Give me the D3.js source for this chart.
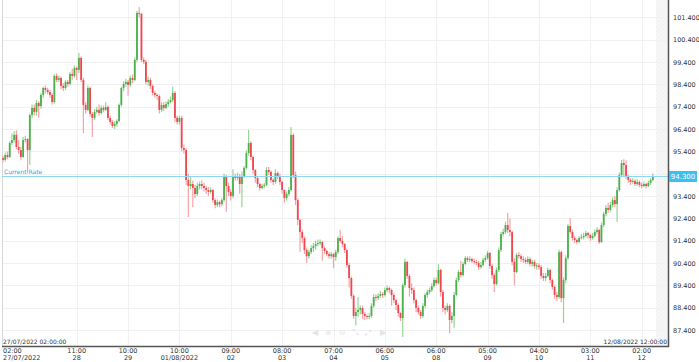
<!DOCTYPE html>
<html lang="en">
<head>
<meta charset="utf-8">
<title>Candles</title>
<script src="https://cdn.jsdelivr.net/npm/d3@7/dist/d3.min.js"></script>
<style>
  body { margin: 0; background: #fff; }
  text { font-family: "DejaVu Sans", Verdana, sans-serif; }
</style>
</head>
<body>
<script>

// hourly candles, 27/07/2022 02:00 -> 12/08/2022
var firstOpen = 95.10;
var closes = [
  95.02, 95.24, 95.15, 95.78, 95.91, 96.14, 95.60, 95.46, 95.15, 95.91,
  95.95, 95.46, 97.03, 97.35, 97.17, 97.57, 97.43, 97.93, 98.24, 98.15,
  98.06, 97.93, 97.61, 98.78, 98.60, 98.69, 98.33, 98.24, 98.51, 98.42,
  98.87, 98.78, 99.14, 99.05, 99.59, 98.60, 97.48, 97.26, 98.24, 97.08,
  96.90, 97.17, 97.26, 97.12, 97.35, 97.26, 97.39, 96.90, 96.72, 96.54,
  96.63, 96.76, 97.48, 98.24, 98.42, 98.51, 98.38, 98.69, 98.60, 99.50,
  101.60, 101.56, 99.50, 99.41, 98.51, 98.60, 98.33, 98.02, 97.93, 97.88,
  97.26, 97.48, 97.35, 97.52, 97.61, 97.70, 98.02, 96.90, 96.72, 96.90,
  95.55, 95.46, 94.12, 93.85, 93.94, 93.76, 93.49, 93.85, 93.94, 93.85,
  93.76, 93.67, 93.58, 93.67, 93.22, 93.00, 93.13, 93.04, 93.22, 94.30,
  93.85, 93.58, 93.40, 94.25, 94.21, 94.30, 93.94, 94.30, 94.66, 95.33,
  95.78, 95.15, 94.57, 94.21, 93.94, 93.76, 93.85, 93.90, 94.57, 94.48,
  94.12, 94.03, 94.43, 94.30, 94.03, 93.67, 93.31, 93.49, 93.67, 96.14,
  94.34, 93.22, 92.33, 91.79, 91.52, 90.98, 90.71, 90.89, 91.07, 91.16,
  91.25, 91.30, 91.34, 91.07, 90.94, 90.80, 90.71, 90.80, 90.67, 90.89,
  91.52, 91.39, 91.25, 90.98, 90.31, 89.73, 88.93, 88.03, 88.21, 88.30,
  88.39, 88.12, 88.03, 87.99, 88.03, 88.48, 88.88, 88.84, 88.93, 89.01,
  88.97, 89.19, 89.28, 89.19, 88.97, 88.74, 88.52, 88.16, 87.94, 89.41,
  90.45, 89.82, 89.28, 89.19, 88.74, 88.39, 88.21, 88.03, 88.48, 88.97,
  89.10, 89.19, 89.37, 89.64, 89.50, 90.09, 89.10, 88.39, 88.30, 88.48,
  87.85, 88.03, 88.97, 89.64, 90.00, 89.86, 90.36, 90.62, 90.54, 90.58,
  90.49, 90.45, 90.40, 90.22, 90.31, 90.54, 90.62, 90.85, 90.27, 89.86,
  89.46, 90.09, 90.98, 91.70, 91.79, 92.10, 91.88, 91.79, 90.45, 90.00,
  90.76, 90.71, 90.58, 90.54, 90.45, 90.58, 90.36, 90.45, 90.27, 90.29,
  90.22, 89.82, 89.73, 89.82, 90.09, 89.64, 89.33, 88.97, 88.88, 90.89,
  88.83, 89.64, 90.62, 92.06, 91.79, 91.52, 91.43, 91.34, 91.52, 91.56,
  91.61, 91.74, 91.65, 91.52, 91.61, 91.79, 91.88, 91.34, 92.10, 92.60,
  92.87, 92.78, 93.00, 93.22, 93.04, 93.67, 94.34, 94.88, 94.79, 94.30,
  94.12, 94.03, 94.08, 93.94, 94.03, 93.90, 93.85, 93.94, 93.85, 93.99, 94.12, 94.30
];
var highs = [
  95.20, 95.35, 95.40, 95.85, 96.20, 96.30, 96.35, 95.90, 95.60, 96.05,
  96.10, 96.00, 97.10, 97.50, 97.50, 97.70, 97.65, 98.00, 98.30, 98.35,
  98.25, 98.15, 98.00, 98.85, 98.90, 98.80, 98.75, 98.45, 98.60, 98.60,
  98.95, 99.10, 99.25, 99.20, 99.81, 99.65, 98.70, 97.60, 98.35, 98.30,
  97.15, 97.30, 97.40, 97.50, 97.45, 97.45, 97.60, 97.45, 97.00, 96.80,
  96.75, 96.85, 97.55, 98.30, 98.55, 98.65, 98.60, 98.80, 98.85, 99.60,
  101.70, 101.87, 101.60, 99.60, 99.50, 98.75, 98.70, 98.40, 98.10, 98.00,
  97.95, 97.60, 97.60, 97.65, 97.75, 97.85, 98.30, 98.10, 97.00, 97.00,
  97.00, 95.70, 95.55, 94.40, 94.30, 94.10, 93.90, 94.00, 94.05, 94.10,
  94.00, 93.85, 93.80, 93.80, 93.70, 93.30, 93.25, 93.20, 93.30, 94.40,
  94.35, 94.00, 93.70, 94.60, 94.40, 94.45, 94.40, 94.50, 94.75, 95.45,
  96.36, 95.85, 95.20, 94.60, 94.30, 94.00, 93.95, 94.00, 94.70, 94.70,
  94.55, 94.20, 94.60, 94.50, 94.40, 94.10, 93.70, 93.60, 93.80, 96.49,
  96.20, 94.50, 93.30, 92.40, 91.90, 91.60, 91.10, 91.00, 91.20, 91.30,
  91.40, 91.45, 91.45, 91.40, 91.15, 91.00, 90.90, 90.90, 90.85, 91.00,
  91.60, 91.88, 91.60, 91.30, 91.05, 90.40, 89.80, 89.00, 88.40, 88.88,
  88.50, 88.50, 88.20, 88.10, 88.15, 88.60, 89.00, 89.00, 89.05, 89.15,
  89.10, 89.30, 89.40, 89.35, 89.25, 89.05, 88.80, 88.60, 88.20, 89.50,
  90.60, 90.50, 89.90, 89.50, 89.30, 88.80, 88.50, 88.30, 88.60, 89.05,
  89.20, 89.30, 89.50, 89.75, 89.75, 90.35, 90.15, 89.20, 88.50, 88.60,
  88.55, 88.20, 89.10, 89.75, 90.10, 90.50, 90.45, 90.70, 90.70, 90.70,
  90.65, 90.60, 90.55, 90.50, 90.45, 90.65, 90.75, 90.95, 90.90, 90.35,
  89.95, 90.20, 91.10, 91.80, 91.95, 92.25, 92.64, 92.40, 91.85, 90.60,
  90.85, 90.90, 90.80, 90.70, 90.65, 90.70, 90.65, 90.55, 90.55, 90.40,
  90.40, 90.30, 89.95, 89.95, 90.20, 90.15, 89.70, 89.40, 89.10, 91.00,
  90.95, 89.75, 90.75, 92.15, 92.42, 91.90, 91.60, 91.50, 91.60, 91.70,
  91.75, 91.85, 91.80, 91.70, 91.75, 91.90, 92.00, 91.95, 92.20, 92.70,
  93.00, 93.10, 93.15, 93.35, 93.40, 93.80, 94.45, 95.02, 95.05, 95.00,
  94.35, 94.20, 94.20, 94.15, 94.15, 94.10, 94.00, 94.05, 94.00, 94.10, 94.20, 94.42
];
var lows = [
  94.90, 94.95, 95.05, 95.10, 95.70, 95.80, 95.50, 95.30, 95.00, 95.10,
  95.80, 94.43, 94.80, 96.90, 97.00, 97.00, 96.90, 97.30, 97.80, 98.00,
  97.95, 97.80, 97.50, 97.55, 98.50, 98.50, 98.20, 98.10, 98.15, 98.30,
  98.35, 98.60, 98.70, 98.60, 98.90, 98.50, 96.22, 97.10, 97.20, 96.95,
  96.05, 96.80, 97.10, 97.00, 97.05, 97.15, 97.20, 96.80, 96.60, 96.45,
  96.40, 96.50, 96.70, 97.40, 98.10, 98.30, 97.90, 98.30, 98.45, 98.55,
  99.40, 101.40, 99.40, 99.30, 98.40, 98.35, 98.20, 97.90, 97.80, 97.70,
  97.10, 97.15, 97.20, 97.30, 97.40, 97.55, 97.60, 96.70, 96.60, 96.60,
  95.40, 95.30, 93.90, 92.46, 93.70, 92.90, 93.30, 93.40, 93.70, 93.70,
  93.60, 93.50, 93.40, 93.50, 93.10, 92.85, 92.90, 92.90, 92.95, 93.15,
  92.70, 93.40, 93.20, 93.30, 94.10, 94.10, 93.50, 92.90, 94.20, 94.60,
  95.20, 95.00, 94.40, 94.00, 93.80, 93.65, 93.70, 93.75, 93.85, 94.35,
  94.00, 93.90, 93.95, 94.15, 93.90, 93.50, 93.10, 93.20, 93.40, 93.60,
  94.20, 93.00, 92.10, 90.90, 91.30, 90.80, 90.40, 90.60, 90.80, 90.90,
  91.00, 91.15, 91.20, 90.50, 90.80, 90.70, 90.60, 90.60, 90.18, 90.50,
  90.80, 91.30, 91.10, 90.85, 90.20, 89.30, 88.80, 87.90, 87.60, 88.00,
  88.10, 87.90, 87.85, 87.90, 87.90, 87.95, 88.40, 88.70, 88.75, 88.85,
  88.85, 88.90, 89.10, 89.05, 88.50, 88.60, 88.30, 88.00, 87.80, 87.09,
  89.30, 89.70, 88.90, 89.00, 88.60, 88.20, 88.10, 87.90, 87.95, 88.40,
  88.85, 89.00, 89.10, 89.30, 89.40, 89.45, 88.90, 88.20, 88.10, 88.20,
  87.27, 87.70, 87.50, 88.90, 89.55, 89.75, 89.80, 90.30, 90.45, 90.45,
  90.40, 90.35, 90.30, 90.10, 90.15, 90.25, 90.45, 90.55, 90.15, 89.70,
  89.10, 89.40, 90.00, 90.90, 91.60, 91.70, 91.75, 91.60, 90.30, 89.41,
  89.95, 90.60, 90.45, 90.40, 90.35, 90.35, 90.25, 90.25, 90.15, 90.10,
  90.10, 89.70, 89.60, 89.60, 89.75, 89.50, 89.20, 88.80, 88.70, 88.80,
  88.65, 87.72, 89.50, 90.55, 91.70, 91.40, 91.30, 91.25, 91.30, 91.45,
  91.45, 91.55, 91.50, 91.40, 91.45, 91.55, 91.70, 91.25, 91.30, 92.00,
  92.50, 92.65, 92.70, 92.90, 92.90, 92.24, 93.60, 94.25, 94.30, 94.15,
  94.00, 93.90, 93.95, 93.85, 93.85, 93.80, 93.75, 93.80, 93.75, 93.80, 93.90, 94.05
];

// x axis labels (candle index, time, day)
var tickIdx  = [0, 33, 56, 79, 102, 125, 148, 171, 194, 217, 240, 263, 286];
var tickTime = ["02:00", "11:00", "10:00", "10:00", "09:00", "08:00", "07:00", "06:00", "06:00", "05:00", "04:00", "03:00", "02:00"];
var tickDay  = ["27/07/2022", "28", "29", "01/08/2022", "02", "03", "04", "05", "08", "09", "10", "11", "12"];
var yTicks = [87.4, 88.4, 89.4, 90.4, 91.4, 92.4, 93.4, 94.4, 95.4, 96.4, 97.4, 98.4, 99.4, 100.4, 101.4];
var currentRate = 94.3;
var startLabel = "27/07/2022 02:00:00";
var endLabel = "12/08/2022 12:00:00";

var w = 699, h = 362;
var left = 2, right = 668, bottom = 346;

var candles = closes.map(function (c, i) {
    return { i: i, o: i === 0 ? firstOpen : closes[i - 1], c: c, h: highs[i], l: lows[i] };
});

var xScale = d3.scaleLinear().domain([0, 296]).range([3, 664]);
var yScale = d3.scaleLinear().domain([86.82, 102.18]).range([343, 0]);

var svg = d3.select("body").append("svg")
    .attr("width", w)
    .attr("height", h);

svg.append("rect").attr("width", w).attr("height", h).attr("fill", "#fff");

// hatched future area
var defs = svg.append("defs");
var pat = defs.append("pattern")
    .attr("id", "hatch")
    .attr("width", 3).attr("height", 3)
    .attr("patternUnits", "userSpaceOnUse")
    .attr("patternTransform", "rotate(45)");
pat.append("rect").attr("width", 3).attr("height", 3).attr("fill", "#f7f7f7");
pat.append("line").attr("x1", 0).attr("y1", 0).attr("x2", 0).attr("y2", 3)
    .attr("stroke", "#ececec").attr("stroke-width", 1);
svg.append("rect")
    .attr("x", 656).attr("y", 0)
    .attr("width", right - 656).attr("height", bottom)
    .attr("fill", "url(#hatch)");

// grid
svg.append("g").selectAll("line")
    .data(yTicks)
    .enter().append("line")
    .attr("x1", left).attr("x2", right)
    .attr("y1", function (d) { return Math.round(yScale(d)) + 0.5; })
    .attr("y2", function (d) { return Math.round(yScale(d)) + 0.5; })
    .attr("stroke", "#f1f1f1");

svg.append("g").selectAll("line")
    .data(tickIdx.slice(1))
    .enter().append("line")
    .attr("x1", function (d) { return Math.round(xScale(d)) + 0.5; })
    .attr("x2", function (d) { return Math.round(xScale(d)) + 0.5; })
    .attr("y1", 0).attr("y2", bottom)
    .attr("stroke", "#f1f1f1");

svg.append("line")
    .attr("x1", left + 0.5).attr("x2", left + 0.5)
    .attr("y1", 0).attr("y2", bottom)
    .attr("stroke", "#d8d8d8");

// faint navigation glyphs
var navX = [315, 328, 342, 355, 368, 383];
var navG = ["◀", "⊕", "⊖", "⤡", "⤢", "▶"];
svg.append("g").selectAll("text")
    .data(navG)
    .enter().append("text")
    .attr("x", function (d, i) { return navX[i]; })
    .attr("y", 335)
    .attr("text-anchor", "middle")
    .attr("font-size", "8px")
    .attr("fill", "#e4e4e4")
    .text(function (d) { return d; });

// candles
var g = svg.append("g");
g.selectAll("line.wick")
    .data(candles)
    .enter().append("line")
    .attr("class", "wick")
    .attr("x1", function (d) { return xScale(d.i); })
    .attr("x2", function (d) { return xScale(d.i); })
    .attr("y1", function (d) { return yScale(d.h); })
    .attr("y2", function (d) { return yScale(d.l); })
    .attr("stroke", function (d) { return d.c >= d.o ? "#97d397" : "#f5a3a6"; })
    .attr("stroke-width", 1.2);

g.selectAll("rect.body")
    .data(candles)
    .enter().append("rect")
    .attr("class", "body")
    .attr("x", function (d) { return xScale(d.i) - 0.9; })
    .attr("width", 1.8)
    .attr("y", function (d) { return yScale(Math.max(d.o, d.c)); })
    .attr("height", function (d) { return Math.max(1, Math.abs(yScale(d.o) - yScale(d.c))); })
    .attr("fill", function (d) { return d.c >= d.o ? "#4cb04c" : "#f0474f"; });

// current rate
var cy = Math.round(yScale(currentRate)) + 0.5;
svg.append("line")
    .attr("x1", left).attr("x2", right)
    .attr("y1", cy).attr("y2", cy)
    .attr("stroke", "#8fd6f2").attr("stroke-width", 1);
svg.append("text")
    .attr("x", 4).attr("y", cy - 2.5)
    .attr("font-size", "6px")
    .attr("fill", "#22a8e2")
    .text("Current Rate");

// axes lines
svg.append("line")
    .attr("x1", left).attr("x2", right + 1)
    .attr("y1", bottom + 0.5).attr("y2", bottom + 0.5)
    .attr("stroke", "#555").attr("stroke-width", 1.5);
svg.append("line")
    .attr("x1", right + 0.5).attr("x2", right + 0.5)
    .attr("y1", 0).attr("y2", bottom + 1)
    .attr("stroke", "#555").attr("stroke-width", 1.5);

// y labels
svg.append("g").selectAll("text")
    .data(yTicks.filter(function (d) { return Math.abs(d - currentRate) > 0.3; }))
    .enter().append("text")
    .attr("x", 673)
    .attr("y", function (d) { return yScale(d) + 2.5; })
    .attr("font-size", "6.5px")
    .attr("fill", "#333")
    .text(function (d) { return d3.format(".3f")(d); });

svg.append("rect")
    .attr("x", 669).attr("y", cy - 5.5)
    .attr("width", 28).attr("height", 11)
    .attr("fill", "#3cc0f0");
svg.append("text")
    .attr("x", 683).attr("y", cy + 2.5)
    .attr("text-anchor", "middle")
    .attr("font-size", "7px")
    .attr("fill", "#fff")
    .text(d3.format(".3f")(currentRate));

// x labels
var xl = svg.append("g").selectAll("g")
    .data(tickIdx)
    .enter().append("g");
xl.append("text")
    .attr("x", function (d, i) { return i === 0 ? 3 : xScale(d); })
    .attr("y", 353)
    .attr("text-anchor", function (d, i) { return i === 0 ? "start" : "middle"; })
    .attr("font-size", "6.5px")
    .attr("fill", "#333")
    .text(function (d, i) { return tickTime[i]; });
xl.append("text")
    .attr("x", function (d, i) { return i === 0 ? 3 : xScale(d); })
    .attr("y", 360)
    .attr("text-anchor", function (d, i) { return i === 0 ? "start" : "middle"; })
    .attr("font-size", "6.5px")
    .attr("fill", "#333")
    .text(function (d, i) { return tickDay[i]; });

svg.append("text")
    .attr("x", 3).attr("y", 344)
    .attr("font-size", "6px")
    .attr("fill", "#333")
    .text(startLabel);
svg.append("text")
    .attr("x", 667).attr("y", 344)
    .attr("text-anchor", "end")
    .attr("font-size", "6px")
    .attr("fill", "#333")
    .text(endLabel);

</script>
</body>
</html>
